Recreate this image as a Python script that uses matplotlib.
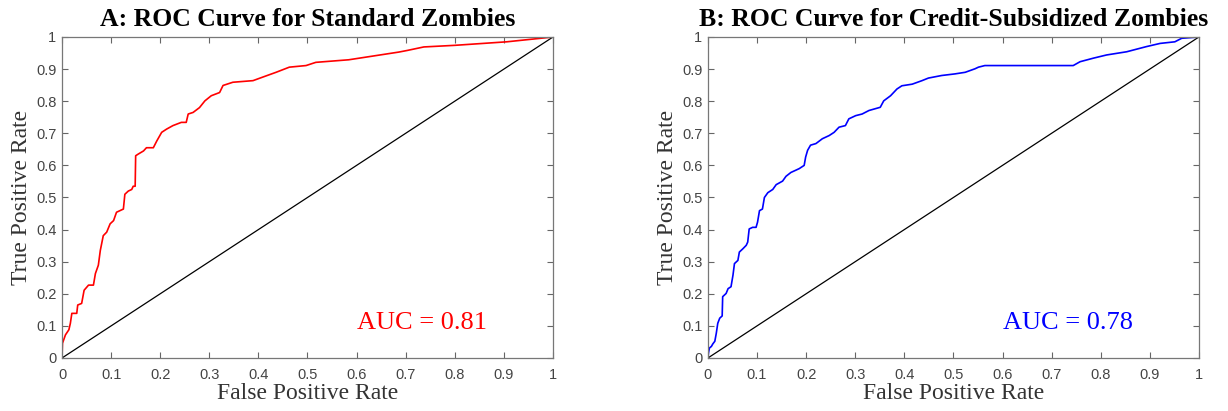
import matplotlib
matplotlib.use("Agg")
from matplotlib import pyplot as plt
import numpy as np

# ROC curve A (standard zombies)
fpr_a = [0, 0.001, 0.007, 0.014, 0.017, 0.02, 0.03, 0.032, 0.04, 0.045, 0.054, 0.064,
         0.068, 0.074, 0.078, 0.084, 0.091, 0.098, 0.105, 0.111, 0.125, 0.128, 0.135,
         0.142, 0.145, 0.149, 0.150, 0.155, 0.166, 0.172, 0.186, 0.193, 0.203, 0.213,
         0.226, 0.243, 0.253, 0.257, 0.267, 0.28, 0.291, 0.304, 0.321, 0.328, 0.348,
         0.389, 0.416, 0.436, 0.463, 0.497, 0.517, 0.584, 0.618, 0.686, 0.703, 0.737,
         0.8, 0.906, 1.0]
tpr_a = [0, 0.046, 0.072, 0.088, 0.108, 0.139, 0.139, 0.165, 0.17, 0.211, 0.227, 0.227,
         0.263, 0.289, 0.335, 0.381, 0.392, 0.418, 0.428, 0.454, 0.464, 0.510, 0.52,
         0.525, 0.535, 0.535, 0.63, 0.635, 0.645, 0.655, 0.655, 0.676, 0.703, 0.713,
         0.724, 0.734, 0.734, 0.760, 0.765, 0.78, 0.801, 0.817, 0.827, 0.849, 0.859,
         0.864, 0.879, 0.890, 0.906, 0.911, 0.921, 0.929, 0.937, 0.953, 0.958, 0.969,
         0.974, 0.985, 1.0]

# ROC curve B (credit-subsidized zombies)
fpr_b = [0, 0.001, 0.003, 0.007, 0.01, 0.014, 0.017, 0.02, 0.024, 0.029, 0.03, 0.037,
         0.041, 0.047, 0.051, 0.054, 0.061, 0.064, 0.071, 0.078, 0.081, 0.084, 0.091,
         0.098, 0.101, 0.105, 0.111, 0.115, 0.122, 0.132, 0.139, 0.152, 0.159, 0.169,
         0.179, 0.186, 0.196, 0.199, 0.203, 0.209, 0.22, 0.233, 0.247, 0.257, 0.267,
         0.28, 0.287, 0.301, 0.314, 0.328, 0.351, 0.358, 0.372, 0.385, 0.395, 0.416,
         0.436, 0.449, 0.476, 0.503, 0.524, 0.544, 0.551, 0.564, 0.744, 0.758, 0.785,
         0.812, 0.853, 0.893, 0.921, 0.951, 0.965, 1.0]
tpr_b = [0, 0.015, 0.031, 0.036, 0.044, 0.052, 0.077, 0.108, 0.124, 0.131, 0.191, 0.201,
         0.216, 0.222, 0.258, 0.294, 0.304, 0.330, 0.340, 0.351, 0.361, 0.402, 0.407,
         0.407, 0.423, 0.459, 0.464, 0.500, 0.515, 0.525, 0.540, 0.551, 0.566, 0.578,
         0.585, 0.590, 0.600, 0.626, 0.647, 0.663, 0.668, 0.683, 0.693, 0.703, 0.719,
         0.724, 0.745, 0.755, 0.760, 0.771, 0.781, 0.801, 0.817, 0.838, 0.848, 0.853,
         0.864, 0.872, 0.880, 0.885, 0.890, 0.901, 0.906, 0.911, 0.911, 0.923, 0.934,
         0.944, 0.954, 0.970, 0.980, 0.985, 0.996, 1.0]

titles = ["A: ROC Curve for Standard Zombies", "B: ROC Curve for Credit-Subsidized Zombies"]
auc_labels = ["AUC = 0.81", "AUC = 0.78"]
colors = ["#ff0000", "#0000ff"]
ticks = np.round(np.arange(0, 1.01, 0.1), 1)
tick_labels = ["0"] + ["%.1f" % t for t in ticks[1:-1]] + ["1"]

serif = ["Liberation Serif", "DejaVu Serif"]
sans = ["Liberation Sans", "DejaVu Sans"]

fig = plt.figure(figsize=(12.28, 4.11), dpi=100)
lefts = [0.0505, 0.5765]

for i, (fx, ty) in enumerate([(fpr_a, tpr_a), (fpr_b, tpr_b)]):
    ax = fig.add_axes([lefts[i], 0.129, 0.3998, 0.781])
    ax.plot([0, 1], [0, 1], color="black", linewidth=0.9)
    ax.plot(fx, ty, color=colors[i], linewidth=1.2)
    ax.set_xlim(0, 1)
    ax.set_ylim(0, 1)
    ax.set_xticks(ticks)
    ax.set_yticks(ticks)
    ax.set_xticklabels(tick_labels, fontfamily=sans, fontsize=10.5, color="#444444")
    ax.set_yticklabels(tick_labels, fontfamily=sans, fontsize=10.5, color="#444444")
    ax.tick_params(axis="x", pad=7)
    ax.tick_params(axis="y", pad=4)
    ax.tick_params(direction="in", top=True, right=True, length=4, width=0.8,
                   color="#666666")
    for s in ax.spines.values():
        s.set_color("#777777")
        s.set_linewidth(0.9)
    ax.set_xlabel("False Positive Rate", fontfamily=serif, fontsize=17, color="#333333",
                  labelpad=1)
    ax.set_ylabel("True Positive Rate", fontfamily=serif, fontsize=17, color="#333333",
                  labelpad=3)
    ax.set_title(titles[i], fontfamily=serif, fontsize=18.5, fontweight="bold", pad=8)
    ax.text(0.733, 0.108, auc_labels[i], fontfamily=serif, fontsize=19, color=colors[i],
            ha="center", va="center")

fig.savefig("out.png", dpi=100)
